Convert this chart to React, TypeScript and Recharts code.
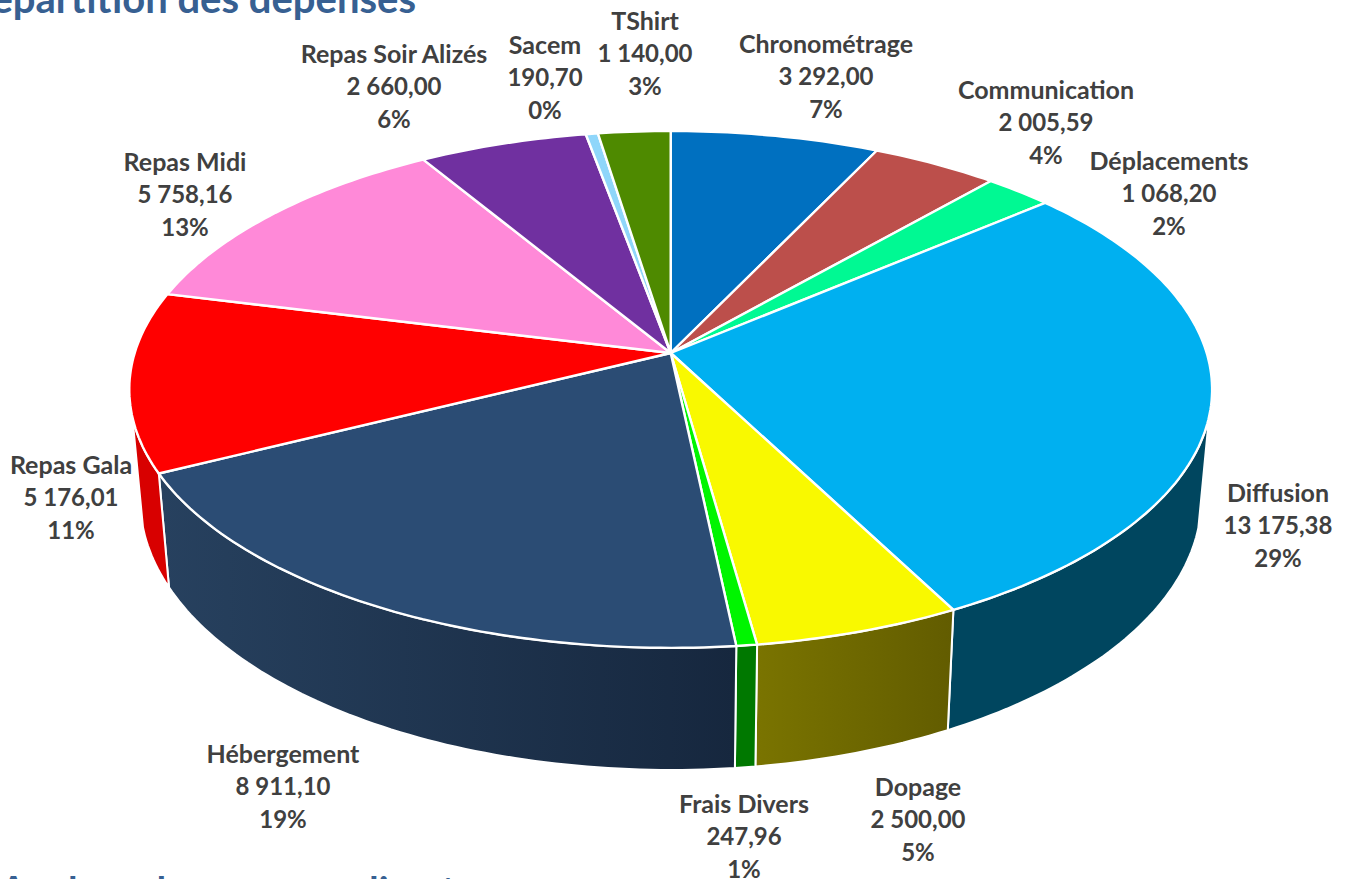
import { PieChart, Pie } from "recharts";

const categories = [
  "Chronométrage", "Communication", "Déplacements", "Diffusion", "Dopage", "Frais Divers",
  "Hébergement", "Repas Gala", "Repas Midi", "Repas Soir Alizés", "Sacem", "TShirt",
];
const amounts = [3292, 2005.59, 1068.2, 13175.38, 2500, 247.96, 8911.1, 5176.01, 5758.16, 2660, 190.7, 1140];
const amountLabels = [
  "3 292,00", "2 005,59", "1 068,20", "13 175,38", "2 500,00", "247,96",
  "8 911,10", "5 176,01", "5 758,16", "2 660,00", "190,70", "1 140,00",
];
const percentLabels = ["7%", "4%", "2%", "29%", "5%", "1%", "19%", "11%", "13%", "6%", "0%", "3%"];

const topColors = [
  "#0070c0", "#bc4f4b", "#00f993", "#00b0f0", "#f9f900", "#00f500",
  "#2b4c74", "#ff0000", "#ff89d8", "#7030a0", "#8fd6fa", "#4e8a00",
];
const wallLeft = [
  "#004a80", "#7d3432", "#00a562", "#00465f", "#7a7400", "#007800",
  "#27415f", "#d80000", "#aa5b90", "#4a206a", "#5f8ea6", "#345c00",
];
const wallRight = [
  "#004a80", "#7d3432", "#00a562", "#00465f", "#625c00", "#007800",
  "#16273e", "#d80000", "#aa5b90", "#4a206a", "#5f8ea6", "#345c00",
];

// label centres: [x, y of first line]
const labelSpots = [
  [826, 42.5], [1046, 88.5], [1169, 159.5], [1278, 491.5], [918, 785.5], [744, 802.5],
  [283, 752.5], [71, 463.5], [185, 160.5], [394, 52.5], [545, 43.5], [645, 19.5],
];

const data = categories.map((name, i) => ({ name, value: amounts[i], fill: topColors[i], i }));

const CX = 670.7;
const CY = 353;
const RADIUS = 536;
// perspective of the tilted disc
const TILT = 0.141;
const SQUASH = 253.3 / RADIUS;
const WALL_FROM = 104;
const WALL_TO = 256;

// clock = degrees clockwise from the top of the pie
function rimPoint(clock: number, cx: number, cy: number, r: number) {
  const rad = (clock * Math.PI) / 180;
  const u = Math.sin(rad);
  const v = -Math.cos(rad);
  const d = 1 - TILT * v;
  return [cx + (r * u) / d, cy + (r * SQUASH * v) / d];
}

function lowerPoint(clock: number, cx: number, cy: number, r: number) {
  const [x, y] = rimPoint(clock, cx, cy, r);
  return [cx + (x - cx) * 0.98, y * 1.047 + 91.6];
}

function sweep(a0: number, a1: number) {
  const steps = Math.max(2, Math.ceil(Math.abs(a1 - a0)));
  return Array.from({ length: steps + 1 }, (_, k) => a0 + ((a1 - a0) * k) / steps);
}

const toPath = (pts: number[][]) =>
  pts.map((p, k) => `${k ? "L" : "M"}${p[0].toFixed(1)} ${p[1].toFixed(1)}`).join(" ") + " Z";

function TopFace(props: any) {
  const { cx, cy, outerRadius, startAngle, endAngle, fill } = props;
  const pts = sweep(90 - startAngle, 90 - endAngle).map((a) => rimPoint(a, cx, cy, outerRadius));
  return <path d={toPath([[cx, cy], ...pts])} fill={fill} stroke="#ffffff" strokeWidth={2.4} strokeLinejoin="round" />;
}

function WallFace(props: any) {
  const { cx, cy, outerRadius, startAngle, endAngle, payload } = props;
  const a0 = Math.max(90 - startAngle, WALL_FROM);
  const a1 = Math.min(90 - endAngle, WALL_TO);
  if (a1 <= a0) return null;
  const angles = sweep(a0, a1);
  const upper = angles.map((a) => rimPoint(a, cx, cy, outerRadius));
  const lower = angles.map((a) => lowerPoint(a, cx, cy, outerRadius)).reverse();
  const id = `wall-${payload.i}`;
  return (
    <g>
      <defs>
        <linearGradient id={id} x1="1" y1="0" x2="0" y2="0">
          <stop offset="0%" stopColor={wallRight[payload.i]} />
          <stop offset="100%" stopColor={wallLeft[payload.i]} />
        </linearGradient>
      </defs>
      <path d={toPath([...upper, ...lower])} fill={`url(#${id})`} stroke="#ffffff" strokeWidth={2} strokeLinejoin="round" />
    </g>
  );
}

function SliceLabel(props: any) {
  const i = props.payload?.i ?? props.index;
  const [x, y] = labelSpots[i];
  return (
    <text x={x} textAnchor="middle" dominantBaseline="central" fontFamily="Lato" fontWeight={700} fontSize={24} fill="#404040">
      <tspan x={x} y={y} fontSize={25}>{categories[i]}</tspan>
      <tspan x={x} y={y + 32.5}>{amountLabels[i]}</tspan>
      <tspan x={x} y={y + 65}>{percentLabels[i]}</tspan>
    </text>
  );
}

const headingStyle: React.CSSProperties = {
  position: "absolute",
  fontFamily: "Lato",
  fontWeight: 700,
  color: "#376092",
  whiteSpace: "nowrap",
  lineHeight: "44px",
};

export default function App() {
  return (
    <div style={{ position: "fixed", left: 0, top: 0, width: 1348, height: 879, overflow: "hidden", background: "#ffffff" }}>
      <div style={{ ...headingStyle, fontSize: 40, left: -33, top: -24 }}>Répartition des dépenses</div>
      <div style={{ ...headingStyle, fontSize: 38.5, left: 0, top: 867 }}>Analyse des revenus directs</div>
      <div style={{ position: "absolute", left: 0, top: 0 }}>
        <PieChart width={1348} height={879} margin={{ top: 0, right: 0, bottom: 0, left: 0 }}>
          <Pie
            data={data}
            dataKey="value"
            nameKey="name"
            cx={CX}
            cy={CY}
            outerRadius={RADIUS}
            startAngle={90}
            endAngle={-270}
            shape={WallFace}
            isAnimationActive={false}
          />
          <Pie
            data={data}
            dataKey="value"
            nameKey="name"
            cx={CX}
            cy={CY}
            outerRadius={RADIUS}
            startAngle={90}
            endAngle={-270}
            shape={TopFace}
            label={SliceLabel}
            labelLine={false}
            isAnimationActive={false}
          />
        </PieChart>
      </div>
    </div>
  );
}
